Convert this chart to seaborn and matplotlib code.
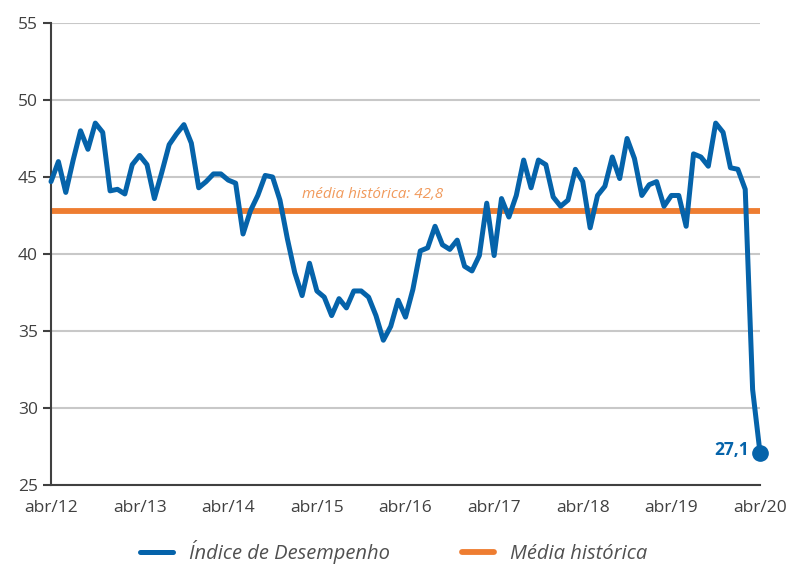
import numpy as np
import pandas as pd
import seaborn as sns
import matplotlib.pyplot as plt
from matplotlib.ticker import MultipleLocator

# Monthly index values, abr/12 .. abr/20
indice = [44.7, 46.0, 44.0, 46.1, 48.0, 46.8, 48.5, 47.9, 44.1, 44.2, 43.9, 45.8,
          46.4, 45.8, 43.6, 45.3, 47.1, 47.8, 48.4, 47.2, 44.3, 44.7, 45.2, 45.2,
          44.8, 44.6, 41.3, 42.8, 43.8, 45.1, 45.0, 43.5, 41.0, 38.8, 37.3, 39.4,
          37.6, 37.2, 36.0, 37.1, 36.5, 37.6, 37.6, 37.2, 36.0, 34.4, 35.3, 37.0,
          35.9, 37.7, 40.2, 40.4, 41.8, 40.6, 40.3, 40.9, 39.2, 38.9, 39.9, 43.3,
          39.9, 43.6, 42.4, 43.8, 46.1, 44.3, 46.1, 45.8, 43.7, 43.1, 43.5, 45.5,
          44.7, 41.7, 43.8, 44.4, 46.3, 44.9, 47.5, 46.2, 43.8, 44.5, 44.7, 43.1,
          43.8, 43.8, 41.8, 46.5, 46.3, 45.7, 48.5, 47.9, 45.6, 45.5, 44.2, 31.2,
          27.1]
media = 42.8
tick_labels = ["abr/12", "abr/13", "abr/14", "abr/15", "abr/16",
               "abr/17", "abr/18", "abr/19", "abr/20"]

blue = "#0563AA"
orange = "#EE7D31"
gray = "#404040"

df = pd.DataFrame({"mes": np.arange(len(indice)), "indice": indice})

sns.set_style("white")
plt.rcParams['font.family'] = ['Open Sans', 'DejaVu Sans']

fig = plt.figure(figsize=(7.88, 5.75), dpi=100)
ax = fig.add_axes([51 / 788, 1 - 485 / 575, 709 / 788, 462 / 575])

ax.set_ylim(25, 55)
ax.set_xlim(0, len(indice) - 1)
ax.yaxis.set_major_locator(MultipleLocator(5))
ax.grid(axis="y", color="#C8C8C8", lw=1.5)
ax.set_axisbelow(True)

ax.axhline(media, color=orange, lw=4.2, label="Média histórica", zorder=2)
sns.lineplot(data=df, x="mes", y="indice", ax=ax, color=blue, lw=3.6,
             label="Índice de Desempenho", zorder=3, clip_on=False)
ax.plot(df["mes"].iloc[-1], indice[-1], "o", color=blue, ms=11, clip_on=False, zorder=4)

ax.text(df["mes"].iloc[-1] - 1.5, indice[-1] + 0.2, f"{indice[-1]:.1f}".replace(".", ","),
        color=blue, fontsize=12.5, fontweight="bold", ha="right", va="center")
ax.text(43.5, media + 0.55, f"média histórica: {media:.1f}".replace(".", ","),
        color="#F19A5C", fontsize=11, style="italic", ha="center", va="bottom")

ax.set_xticks(np.arange(0, len(indice), 12))
ax.set_xticklabels(tick_labels)
ax.set_xticks(np.arange(0, len(indice)), minor=True)
ax.tick_params(axis="x", which="major", direction="inout", length=8, width=1.5,
               color=gray, labelcolor=gray, labelsize=12.5, pad=7)
ax.tick_params(axis="x", which="minor", direction="in", length=3.5, width=1.2, color=gray)
ax.tick_params(axis="y", which="major", direction="out", length=6, width=1.5,
               color=gray, labelcolor=gray, labelsize=12.5, left=True)

for s in ["top", "right"]:
    ax.spines[s].set_visible(False)
for s in ["left", "bottom"]:
    ax.spines[s].set_color(gray)
    ax.spines[s].set_linewidth(1.5)

ax.set_xlabel("")
ax.set_ylabel("")

handles, labels = ax.get_legend_handles_labels()
order = [labels.index("Índice de Desempenho"), labels.index("Média histórica")]
leg = fig.legend([handles[i] for i in order], [labels[i] for i in order],
                 loc="lower center", bbox_to_anchor=(0.5, -0.012), ncol=2,
                 frameon=False, handlelength=1.6, columnspacing=3.6,
                 prop={"style": "italic", "size": 14.5})
for t in leg.get_texts():
    t.set_color("#505050")
ax.get_legend().remove()

fig.savefig("out.png", dpi=100)
